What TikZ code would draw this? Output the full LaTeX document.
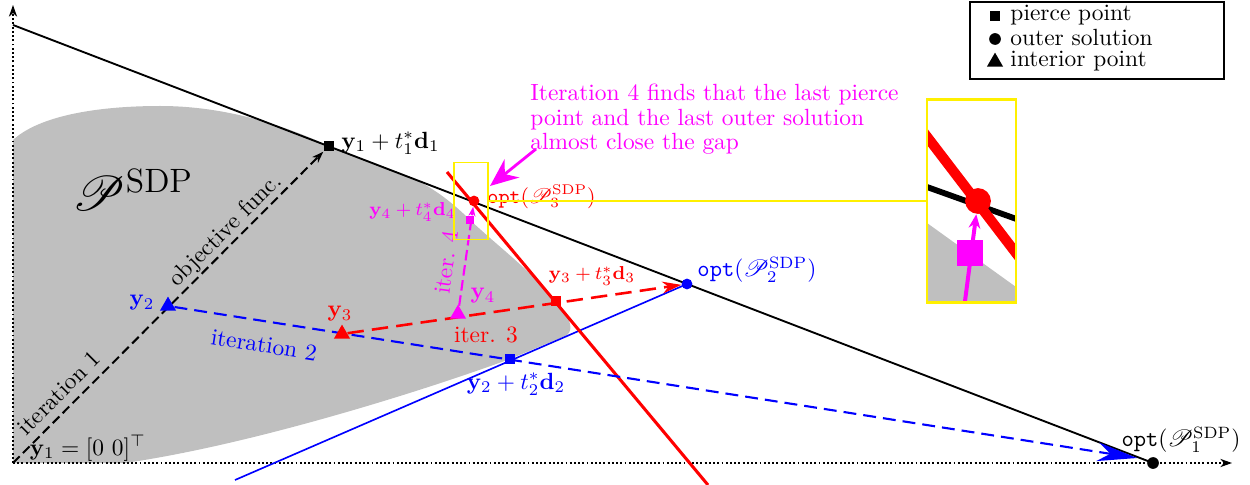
\documentclass[tikz,border=0pt]{standalone}
\usepackage{amsmath,amssymb}
\usepackage{mathrsfs}
\usepackage{xcolor}
\usetikzlibrary{arrows.meta,shapes.geometric}
\definecolor{mag}{RGB}{255,0,255}
\definecolor{zoomyellow}{RGB}{255,240,0}
\pgfdeclarelayer{bg}
\pgfsetlayers{bg,main}
\tikzset{
  pierce/.style={rectangle, fill, inner sep=0pt, minimum size=4.5pt},
  outer/.style={circle, fill, inner sep=0pt, minimum size=4.6pt},
  interior/.style={regular polygon, regular polygon sides=3, fill, inner sep=0pt, minimum size=8pt},
  lbl/.style={inner sep=0pt},
  axis/.style={densely dotted, line width=0.8pt, -{Stealth[length=5pt,width=3.5pt]}},
  objline/.style={line width=0.8pt},
  iter1/.style={dash pattern=on 4pt off 2pt, line width=0.85pt, -{Stealth[length=5pt,width=3.5pt]}},
  iter2/.style={blue, dash pattern=on 5.5pt off 3pt, line width=0.9pt, -{Stealth[length=17pt,width=8pt]}},
  iter3/.style={red, dash pattern=on 7pt off 3.5pt, line width=1.1pt, -{Stealth[length=8pt,width=5pt]}},
  iter4/.style={mag, dash pattern=on 4.5pt off 2pt, line width=0.9pt, -{Stealth[length=4pt,width=3pt]}},
  zoombox/.style={draw=zoomyellow, inner sep=0pt},
  notearr/.style={mag, line width=1.2pt, -{Stealth[length=12pt,width=10pt]}}
}

\begin{document}
\begin{tikzpicture}[x=0.015cm, y=-0.015cm]
\useasboundingbox (0,0) rectangle (1250,485);

\coordinate (orig) at (13,463);
\coordinate (xend) at (1232,463);
\coordinate (yend) at (13,5);
\coordinate (objstart) at (13,25);
\coordinate (cut2start) at (235,480);
\coordinate (cut3start) at (447,172);
\coordinate (cut3end) at (708,485);
\coordinate (tip2) at (1137,458);

\node[pierce] (p1) at (329,146) {};
\node[outer, minimum size=5pt] (opt1) at (1153,463) {};
\node[interior, blue] (y2) at (168,306) {};
\node[pierce, blue] (p2) at (510,359) {};
\node[outer, blue] (opt2) at (687,284) {};
\node[interior, red] (y3) at (342,334) {};
\node[pierce, red] (p3) at (556,301) {};
\node[outer, red] (opt3) at (474,201) {};
\node[interior, mag] (y4) at (458,314) {};
\node[pierce, mag, minimum size=3.6pt] (p4) at (470,220) {};

\begin{pgfonlayer}{bg}
\fill[gray!50] (orig) -- (13,140) .. controls (40,115) and (100,106) .. (160,106)
  .. controls (230,106) and (290,128) .. (p1.center) -- (410,177)
  .. controls (430,186) and (450,200) .. (p4.center)
  .. controls (500,248) and (530,270) .. (p3.center)
  .. controls (575,323) and (572,333) .. (565,336) -- (p2.center)
  .. controls (420,392) and (250,445) .. (125,463) -- cycle;
\draw[axis] (orig) -- (xend);
\draw[axis] (orig) -- (yend);
\draw[objline] (objstart) -- (opt1.center);
\draw[blue, line width=0.7pt] (cut2start) -- (opt2.center);
\draw[red, line width=1.3pt] (cut3start) -- (cut3end);
\draw[iter1] (orig) -- (p1);
\draw[iter2] (y2) -- (tip2);
\draw[iter3] (y3) -- (opt2);
\draw[iter4] (y4) -- (opt3);
\end{pgfonlayer}

\node[lbl, font=\huge] (psdp) at (133,190) {$\mathscr{P}^{\mathrm{SDP}}$};
\node[lbl, anchor=west] (p1lbl) at (341,143) {$\mathbf{y}_1 + t_1^*\mathbf{d}_1$};
\node[lbl] (y1lbl) at (88,448) {$\mathbf{y}_1 = [0\ 0]^\top$};
\node[lbl, rotate=45] (it1lbl) at (59,393) {iteration 1};
\node[lbl, rotate=45] (objlbl) at (226,231) {objective func.};
\node[lbl, blue] (y2lbl) at (142,303) {$\mathbf{y}_2$};
\node[lbl, blue, rotate=-9] (it2lbl) at (264,345) {iteration 2};
\node[lbl, blue] (p2lbl) at (516,384) {$\mathbf{y}_2 + t_2^*\mathbf{d}_2$};
\node[lbl, blue, anchor=west] (opt2lbl) at (697,270) {$\mathtt{opt}(\mathscr{P}_2^{\mathrm{SDP}})$};
\node[lbl, red] (y3lbl) at (340,314) {$\mathbf{y}_3$};
\node[lbl, red] (it3lbl) at (486,335) {iter. 3};
\node[lbl, red, font=\footnotesize] (p3lbl) at (592,276) {$\mathbf{y}_3 + t_3^*\mathbf{d}_3$};
\node[lbl, red, font=\small, anchor=west] (opt3lbl) at (487,197) {$\mathtt{opt}(\mathscr{P}_3^{\mathrm{SDP}})$};
\node[lbl, mag] (y4lbl) at (483,296) {$\mathbf{y}_4$};
\node[lbl, mag, rotate=82] (it4lbl) at (446,262) {iter. 4};
\node[lbl, mag, font=\footnotesize, anchor=east] (p4lbl) at (456,212) {$\mathbf{y}_4 + t_4^*\mathbf{d}_4$};
\node[lbl] (opt1lbl) at (1181,440) {$\mathtt{opt}(\mathscr{P}_1^{\mathrm{SDP}})$};

\node[lbl, mag, anchor=north west, align=left, font=\fontsize{10}{10.3}\selectfont] (note) at (530,84)
  {Iteration 4 finds that the last pierce\\ point and the last outer solution\\ almost close the gap};
\coordinate (notefoot) at (536,149);
\coordinate (notetip) at (490,186);
\draw[notearr] (notefoot) -- (notetip);

\node[zoombox, line width=0.7pt, minimum width=0.51cm, minimum height=1.155cm] (smallbox) at (471,201) {};
\begin{scope}
\clip (927,100) rectangle (1016,303);
\fill[gray!50] (927,223) -- (1016,287) -- (1016,303) -- (927,303) -- cycle;
\draw[line width=2.5pt] (920,184.5) -- (1022,221);
\draw[red, line width=4.3pt] (920,127.5) -- (1022,261);
\end{scope}
\node[circle, fill=red, inner sep=0pt, minimum size=11pt] (zoomdot) at (978,201) {};
\node[rectangle, fill=mag, inner sep=0pt, minimum size=11pt] (zoomsq) at (970,253) {};
\coordinate (zoomfoot) at (965,301);
\draw[mag, line width=1.7pt, -{Stealth[length=6pt,width=5pt]}] (zoomfoot) -- (zoomdot);
\node[zoombox, line width=1pt, minimum width=1.335cm, minimum height=3.045cm] (bigbox) at (971.5,201) {};
\draw[zoomyellow, line width=1pt] (smallbox.east) -- (bigbox.west);

\node[draw, line width=0.5pt, inner sep=0pt, minimum width=3.81cm, minimum height=1.155cm] (legend) at (1097,40.5) {};
\node[pierce] (legsq) at (995,16) {};
\node[outer, minimum size=5pt] (legci) at (995,39) {};
\node[interior] (legtri) at (995,62) {};
\node[lbl, anchor=west] (legsqlbl) at (1010,15) {pierce point};
\node[lbl, anchor=west] (legcilbl) at (1010,38) {outer solution};
\node[lbl, anchor=west] (legtrilbl) at (1010,61) {interior point};
\end{tikzpicture}
\end{document}
